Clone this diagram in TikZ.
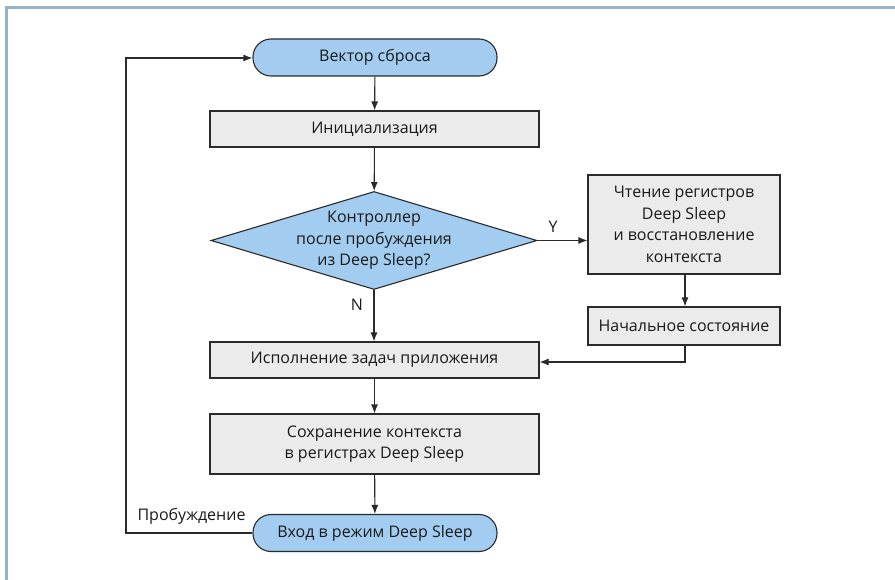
\documentclass[tikz,border=0pt]{standalone}
\usepackage{fontspec}
\setmainfont{Open Sans}
\usetikzlibrary{shapes.geometric,arrows.meta,positioning}
\definecolor{blueF}{HTML}{A3CDF0}
\definecolor{grayF}{HTML}{EBEBEB}
\definecolor{frameC}{HTML}{94B4CC}
\definecolor{lineC}{HTML}{2A2A2A}
\definecolor{txtC}{HTML}{1A1A1A}
\begin{document}
\begin{tikzpicture}[x=1pt,y=-1pt,
  every node/.style={font=\fontsize{16}{21.5}\selectfont, text=txtC},
  box/.style={draw=lineC, line width=1.1pt, fill=grayF, align=center, inner sep=0pt},
  term/.style={draw=lineC, line width=1.1pt, fill=blueF, align=center, inner sep=0pt, rounded corners=18pt, minimum width=244pt, minimum height=37pt},
  dec/.style={draw=lineC, line width=1.1pt, fill=blueF, diamond, aspect=3.3, inner sep=0pt, minimum width=326pt, minimum height=98pt},
  conn/.style={draw=lineC, line width=1.1pt, -{Latex[length=9pt,width=7pt]}},
  lbl/.style={font=\fontsize{16}{21.5}\selectfont}
]
\useasboundingbox (0,0) rectangle (895,580);
\fill[white] (0,0) rectangle (895,580);
\draw[frameC, line width=3pt] (6,580) -- (6,8) -- (895,8);

\node[term] (reset) at (375,57.5) {Вектор сброса};
\node[box, minimum width=329pt, minimum height=36pt] (init) at (374.5,129) {Инициализация};
\node[dec] (q) at (374,240.5) {};
\node[align=center, inner sep=0pt] (qtext) at (q.center) {Контроллер\\после пробуждения\\из Deep Sleep?};
\node[box, minimum width=192pt, minimum height=99pt] (read) at (684,224.5) {Чтение регистров\\Deep Sleep\\и восстановление\\контекста};
\node[box, minimum width=192pt, minimum height=38pt] (start) at (684,326) {Начальное состояние};
\node[box, minimum width=329pt, minimum height=36pt] (exec) at (374.5,360) {Исполнение задач приложения};
\node[box, minimum width=329pt, minimum height=60pt] (save) at (374.5,444) {Сохранение контекста\\в регистрах Deep Sleep};
\node[term] (sleep) at (375,533) {Вход в режим Deep Sleep};

\coordinate (lb) at (126,533);
\coordinate (lt) at (126,58);
\coordinate (ret) at (685,362);

\draw[conn] (reset) -- (init);
\draw[conn] (init) -- (q);
\draw[conn] (q.east) -- (read.west |- q.east);
\node[lbl] (ylab) at (553,227) {Y};
\draw[conn] (q.south) -- (exec.north -| q.south);
\node[lbl] (nlab) at (357,305) {N};
\draw[conn] (read.south -| ret) -- (start.north -| ret);
\draw[conn] (start.south -| ret) -- (ret) -- (exec.east |- ret);
\draw[conn] (exec) -- (save);
\draw[conn] (save) -- (sleep);
\draw[conn] (sleep.west) -- (lb) -- (lt) -- (reset.west |- lt);
\node[lbl, anchor=south east] (wake) at (249,528) {Пробуждение};
\end{tikzpicture}
\end{document}
